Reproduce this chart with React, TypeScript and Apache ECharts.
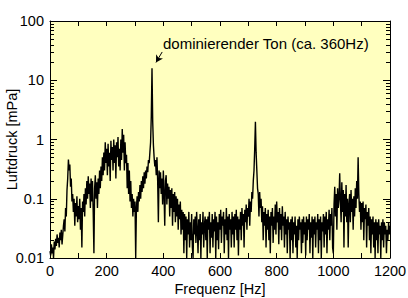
import React, { useEffect, useRef } from "react";
import * as echarts from "echarts";

const STEP_HZ = 2.5;
const amplitudes: number[] = [
  // 0-47.5
  0.013, 0.011, 0.017, 0.012, 0.015, 0.01, 0.019, 0.014, 0.021, 0.016,
  0.025, 0.018, 0.022, 0.015, 0.027, 0.02, 0.03, 0.017, 0.024, 0.035,
  // 50-97.5
  0.045, 0.028, 0.07, 0.05, 0.14, 0.22, 0.46, 0.3, 0.38, 0.16,
  0.22, 0.09, 0.12, 0.06, 0.1, 0.035, 0.085, 0.05, 0.11, 0.04,
  // 100-147.5
  0.075, 0.045, 0.1, 0.03, 0.07, 0.015, 0.09, 0.06, 0.12, 0.05,
  0.15, 0.08, 0.2, 0.1, 0.24, 0.12, 0.18, 0.07, 0.22, 0.09,
  // 150-197.5
  0.2, 0.06, 0.012, 0.15, 0.25, 0.1, 0.19, 0.07, 0.22, 0.12,
  0.3, 0.15, 0.35, 0.2, 0.5, 0.25, 0.6, 0.3, 0.9, 0.4,
  // 200-247.5
  0.7, 0.25, 0.85, 0.35, 0.6, 0.2, 0.95, 0.45, 0.75, 0.3,
  1.0, 0.4, 0.8, 0.22, 0.9, 0.5, 1.1, 0.35, 0.7, 0.3,
  // 250-297.5
  1.0, 0.45, 1.5, 0.6, 1.2, 0.3, 0.9, 0.4, 0.55, 0.15,
  0.4, 0.12, 0.3, 0.09, 0.2, 0.07, 0.12, 0.05, 0.1, 0.06,
  // 300-347.5
  0.09, 0.01, 0.07, 0.11, 0.06, 0.13, 0.09, 0.17, 0.1, 0.2,
  0.13, 0.24, 0.15, 0.28, 0.18, 0.3, 0.22, 0.35, 0.28, 0.45,
  // 350-397.5
  0.4, 0.6, 0.9, 2.5, 16, 2.0, 0.8, 0.5, 0.35, 0.45,
  0.25, 0.5, 0.2, 0.04, 0.3, 0.15, 0.28, 0.12, 0.22, 0.08,
  // 400-447.5
  0.3, 0.12, 0.035, 0.2, 0.25, 0.08, 0.18, 0.1, 0.16, 0.05,
  0.14, 0.07, 0.15, 0.035, 0.12, 0.06, 0.13, 0.04, 0.11, 0.05,
  // 450-497.5
  0.1, 0.03, 0.08, 0.045, 0.09, 0.025, 0.065, 0.03, 0.06, 0.012,
  0.055, 0.02, 0.05, 0.01, 0.045, 0.025, 0.06, 0.015, 0.04, 0.02,
  // 500-547.5
  0.055, 0.015, 0.01, 0.045, 0.025, 0.05, 0.018, 0.06, 0.03, 0.012,
  0.045, 0.02, 0.055, 0.01, 0.04, 0.025, 0.06, 0.015, 0.035, 0.05,
  // 550-597.5
  0.02, 0.045, 0.01, 0.05, 0.03, 0.06, 0.012, 0.04, 0.022, 0.055,
  0.015, 0.045, 0.028, 0.06, 0.01, 0.05, 0.02, 0.04, 0.014, 0.055,
  // 600-647.5
  0.03, 0.065, 0.018, 0.05, 0.035, 0.06, 0.012, 0.045, 0.025, 0.07,
  0.02, 0.05, 0.01, 0.055, 0.03, 0.045, 0.015, 0.06, 0.025, 0.05,
  // 650-697.5
  0.015, 0.055, 0.03, 0.065, 0.02, 0.05, 0.011, 0.045, 0.03, 0.06,
  0.02, 0.07, 0.035, 0.055, 0.015, 0.065, 0.04, 0.08, 0.03, 0.07,
  // 700-747.5
  0.05, 0.1, 0.035, 0.09, 0.06, 0.13, 0.1, 0.2, 0.3, 0.7,
  2.0, 0.6, 0.3, 0.15, 0.12, 0.05, 0.13, 0.07, 0.1, 0.04,
  // 750-797.5
  0.075, 0.02, 0.06, 0.035, 0.07, 0.015, 0.055, 0.03, 0.065, 0.02,
  0.05, 0.012, 0.06, 0.035, 0.07, 0.018, 0.05, 0.03, 0.08, 0.025,
  // 800-847.5
  0.09, 0.04, 0.06, 0.017, 0.07, 0.03, 0.055, 0.02, 0.075, 0.035,
  0.05, 0.015, 0.06, 0.025, 0.045, 0.012, 0.05, 0.03, 0.04, 0.01,
  // 850-897.5
  0.045, 0.02, 0.05, 0.012, 0.04, 0.025, 0.05, 0.015, 0.035, 0.01,
  0.045, 0.02, 0.05, 0.03, 0.04, 0.012, 0.045, 0.018, 0.05, 0.025,
  // 900-947.5
  0.04, 0.011, 0.05, 0.02, 0.045, 0.03, 0.055, 0.012, 0.04, 0.022,
  0.05, 0.01, 0.045, 0.025, 0.05, 0.015, 0.04, 0.03, 0.055, 0.012,
  // 950-997.5
  0.045, 0.02, 0.05, 0.01, 0.04, 0.028, 0.055, 0.015, 0.05, 0.025,
  0.06, 0.012, 0.045, 0.03, 0.065, 0.02, 0.055, 0.035, 0.07, 0.015,
  // 1000-1047.5
  0.012, 0.08, 0.16, 0.05, 0.12, 0.03, 0.15, 0.07, 0.1, 0.27,
  0.09, 0.04, 0.19, 0.06, 0.14, 0.015, 0.12, 0.05, 0.17, 0.04,
  // 1050-1097.5
  0.1, 0.015, 0.08, 0.12, 0.04, 0.14, 0.06, 0.1, 0.03, 0.11,
  0.05, 0.15, 0.07, 0.2, 0.1, 0.5, 0.12, 0.06, 0.09, 0.03,
  // 1100-1147.5
  0.085, 0.04, 0.09, 0.02, 0.07, 0.045, 0.08, 0.015, 0.06, 0.035,
  0.07, 0.02, 0.05, 0.012, 0.045, 0.025, 0.05, 0.015, 0.04, 0.01,
  // 1150-1197.5
  0.045, 0.02, 0.04, 0.012, 0.045, 0.025, 0.035, 0.01, 0.04, 0.02,
  0.045, 0.015, 0.04, 0.025, 0.035, 0.012, 0.03, 0.02, 0.04, 0.025,
  // 1200
  0.035,
];

const xTickLabels = ["0", "200", "400", "600", "800", "1000", "1200"];
const yTickLabels = ["0.01", "0.1", "1", "10", "100"];
const minorTickValues: number[] = [
  0.02, 0.03, 0.04, 0.05, 0.06, 0.07, 0.08, 0.09,
  0.2, 0.3, 0.4, 0.5, 0.6, 0.7, 0.8, 0.9,
  2, 3, 4, 5, 6, 7, 8, 9,
  20, 30, 40, 50, 60, 70, 80, 90,
];
const annotationText = "dominierender Ton (ca. 360Hz)";
const arrowFrom = [396, 30];
const arrowTo = [374, 20];

const FONT = "Liberation Sans, Arial, Helvetica, sans-serif";

export default function App() {
  const ref = useRef<HTMLDivElement>(null);
  useEffect(() => {
    if (!ref.current) return;
    const chart = echarts.init(ref.current, null, { renderer: "svg" });
    const seriesData = amplitudes.map((v, i) => [i * STEP_HZ, v]);
    const labelStyle = { color: "#000", fontFamily: FONT, fontSize: 14.5 };
    chart.setOption({
      animation: false,
      backgroundColor: "#fff",
      grid: {
        left: 50,
        right: 18,
        top: 21,
        bottom: 40,
        show: true,
        backgroundColor: "#FFFFBF",
        borderWidth: 0,
        containLabel: false,
        outerBoundsMode: "none",
      },
      xAxis: [
        {
          type: "value",
          min: 0,
          max: 1200,
          interval: 100,
          position: "bottom",
          name: "Frequenz [Hz]",
          nameLocation: "middle",
          nameGap: 23,
          nameMoveOverlap: false,
          nameTextStyle: labelStyle,
          axisLine: { show: true, onZero: false, lineStyle: { color: "#000", width: 1 } },
          axisTick: { show: true, inside: true, length: 5, lineStyle: { color: "#000" } },
          axisLabel: {
            ...labelStyle,
            margin: 5,
            formatter: (v: number) => (xTickLabels.includes(String(v)) ? String(v) : ""),
          },
          splitLine: { show: false },
        },
        {
          type: "value",
          min: 0,
          max: 1200,
          interval: 100,
          position: "top",
          axisLine: { show: true, onZero: false, lineStyle: { color: "#000", width: 1 } },
          axisTick: { show: true, inside: true, length: 5, lineStyle: { color: "#000" } },
          axisLabel: { show: false },
          splitLine: { show: false },
        },
      ],
      yAxis: [
        {
          type: "log",
          logBase: 10,
          min: 0.01,
          max: 100,
          position: "left",
          name: "Luftdruck [mPa]",
          nameLocation: "middle",
          nameGap: 31,
          nameMoveOverlap: false,
          nameTextStyle: labelStyle,
          axisLine: { show: true, onZero: false, lineStyle: { color: "#000", width: 1 } },
          axisTick: { show: true, inside: true, length: 7, lineStyle: { color: "#000" } },
          axisLabel: {
            ...labelStyle,
            margin: 6,
            formatter: (v: number) => {
              const s = yTickLabels.find((t) => Math.abs(parseFloat(t) - v) < 1e-9 * Math.max(1, v));
              return s ?? "";
            },
          },
          splitLine: { show: false },
        },
        {
          type: "log",
          logBase: 10,
          min: 0.01,
          max: 100,
          position: "right",
          axisLine: { show: true, onZero: false, lineStyle: { color: "#000", width: 1 } },
          axisTick: { show: true, inside: true, length: 7, lineStyle: { color: "#000" } },
          axisLabel: { show: false },
          splitLine: { show: false },
        },
      ],
      graphic: [
        {
          type: "text",
          left: 163,
          top: 36,
          style: { text: annotationText, fill: "#000", font: `15px ${FONT}` },
        },
      ],
      series: [
        {
          type: "line",
          data: seriesData,
          showSymbol: false,
          symbol: "none",
          lineStyle: { color: "#000", width: 1.4 },
          silent: true,
          markLine: {
            silent: true,
            symbol: ["none", "arrow"],
            symbolSize: [6, 7],
            label: { show: false },
            lineStyle: { color: "#000", width: 1, type: "solid" },
            data: [[{ coord: arrowFrom }, { coord: arrowTo }]],
          },
        },
        {
          type: "custom",
          silent: true,
          data: minorTickValues.map((v) => [0, v]),
          renderItem: (params: any, api: any) => {
            const cs = params.coordSys;
            const p = api.coord([0, api.value(1)]);
            const y = Math.round(p[1]) + 0.5;
            const x0 = cs.x;
            const x1 = cs.x + cs.width;
            return {
              type: "group",
              children: [
                { type: "line", shape: { x1: x0, y1: y, x2: x0 + 4, y2: y }, style: { stroke: "#000", lineWidth: 1 } },
                { type: "line", shape: { x1: x1 - 4, y1: y, x2: x1, y2: y }, style: { stroke: "#000", lineWidth: 1 } },
              ],
            };
          },
        },
      ],
    });
    return () => chart.dispose();
  }, []);
  return <div ref={ref} style={{ width: 408, height: 298, position: "absolute", left: 0, top: 0 }} />;
}
